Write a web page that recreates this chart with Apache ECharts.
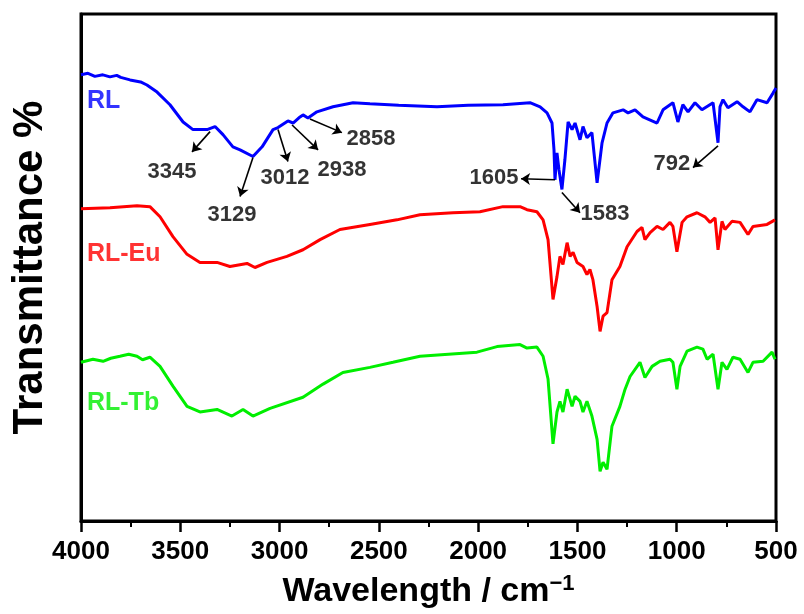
<!DOCTYPE html>
<html>
<head>
<meta charset="utf-8">
<script src="https://cdn.jsdelivr.net/npm/echarts@6/dist/echarts.min.js"></script>
<style>html,body{margin:0;padding:0;background:#fff}#c{width:804px;height:614px}</style>
</head>
<body>
<div id="c"></div>
<script>
// wavenumber (cm-1) and transmittance (arbitrary, offset) for each spectrum
const rlWave = [4000,3965,3930,3890,3854,3820,3800,3753,3700,3668,3617,3552,3486,3436,3365,3325,3285,3235,3199,3134,3088,3033,3008,2958,2932,2897,2882,2857,2812,2731,2630,2545,2400,2207,2050,1875,1739,1688,1653,1628,1618,1613,1603,1593,1578,1563,1547,1527,1512,1487,1472,1452,1427,1401,1376,1351,1321,1270,1245,1210,1170,1099,1069,1019,994,969,943,908,873,817,792,782,767,742,696,666,631,596,545,515,500];
const rlT    = [88.0,88.3,87.7,88.0,87.6,87.9,87.5,87.0,86.6,86.0,84.6,82.1,78.7,77.2,77.2,77.8,76.2,73.8,73.2,71.9,73.8,77.2,77.6,78.9,78.5,79.7,80.1,79.5,80.7,81.7,82.5,82.3,82.0,81.7,82.0,82.1,82.5,81.7,80.5,78.5,73.2,67.3,72.6,69.3,65.4,71.3,78.7,77.2,78.5,75.2,77.8,75.6,76.6,66.7,74.6,78.5,80.5,81.1,80.5,81.1,79.7,78.5,81.1,82.5,78.7,82.1,80.7,82.5,81.1,82.5,74.6,81.7,83.1,81.5,82.7,81.7,80.7,83.1,82.5,84.4,85.4];

const euWave = [4000,3854,3718,3653,3602,3537,3466,3401,3315,3250,3164,3124,3063,2963,2882,2796,2696,2545,2409,2293,2127,1991,1875,1789,1754,1704,1673,1648,1623,1603,1588,1573,1552,1537,1522,1502,1472,1452,1437,1422,1401,1386,1371,1351,1326,1286,1250,1200,1175,1160,1134,1099,1069,1034,1019,999,973,948,898,858,832,807,792,772,757,722,681,641,616,545,505];
const euT    = [61.6,61.8,62.2,62.0,60.0,56.1,52.6,51.0,51.0,50.2,50.8,50.0,51.0,52.2,53.5,55.5,57.5,58.5,59.4,60.4,60.8,61.0,62.0,62.0,61.4,61.0,59.4,55.5,43.7,48.2,52.2,50.6,54.9,52.2,53.0,51.0,50.2,48.6,49.6,47.6,42.3,37.4,40.4,41.1,47.6,50.2,54.1,57.1,57.9,55.5,56.9,58.1,57.5,58.9,58.1,53.1,58.9,60.0,60.8,60.0,58.9,59.8,53.5,59.1,57.5,59.1,58.9,56.5,58.1,58.5,59.4];

const tbWave = [4000,3940,3889,3850,3804,3760,3718,3690,3653,3602,3537,3466,3401,3315,3240,3184,3134,3048,2882,2781,2681,2545,2429,2293,2006,1905,1789,1754,1704,1673,1648,1623,1603,1588,1573,1552,1527,1512,1487,1472,1452,1427,1401,1386,1371,1351,1326,1286,1260,1235,1185,1160,1124,1084,1034,1019,999,983,948,898,868,847,817,792,772,747,717,681,641,616,565,520,505];
const tbT    = [31.3,31.9,31.5,32.1,32.5,32.9,32.5,31.8,32.3,30.5,26.6,22.6,21.5,22.0,20.7,22.0,20.7,22.2,24.4,27.0,29.3,30.3,31.3,32.5,33.3,34.4,34.8,34.1,34.3,32.5,28.0,15.2,21.5,23.6,21.5,26.0,22.6,24.6,23.6,21.5,23.6,20.7,16.1,9.8,11.6,10.2,18.7,22.6,26.0,28.5,31.3,28.3,30.5,31.5,31.9,31.3,26.0,30.5,33.5,34.3,33.9,31.9,32.9,26.0,31.3,29.9,32.3,31.9,29.3,31.3,31.5,33.3,31.9];

const seriesNames = ['RL','RL-Eu','RL-Tb'];
const xTicks = ['4000','3500','3000','2500','2000','1500','1000','500'];

// peak annotations: label, arrow start (on curve), arrow end, label centre  [wavenumber, T]
const annoText = ['3345','3129','3012','2938','2858','1605','1583','792'];
const annoFrom = [[3350,76.8],[3134,71.7],[3008,77.2],[2937,78.1],[2847,79.3],[1613,67.3],[1578,64.8],[792,74.0]];
const annoTo   = [[3441,72.8],[3199,64.0],[2958,70.9],[2806,73.2],[2686,76.6],[1784,67.5],[1487,60.8],[918,69.7]];
const annoAt   = [[3542,68.9],[3240,60.4],[2973,67.7],[2686,69.3],[2540,75.4],[1920,67.7],[1361,60.6],[1024,70.5]];

// series name label anchors [wavenumber, T]
const nameAt = [[3970,82.9],[3970,52.6],[3970,23.2]];

const colors = ['#0000ff','#ff0000','#00ee00'];
const FONT = '"Liberation Sans", Arial, Helvetica, sans-serif';

const zip = (a,b)=>a.map((v,i)=>[v,b[i]]);
const curves = [zip(rlWave,rlT), zip(euWave,euT), zip(tbWave,tbT)];

const chart = echarts.init(document.getElementById('c'), null, {renderer:'canvas'});
const series = curves.map((d,i)=>({
  name: seriesNames[i], type:'line', data:d, showSymbol:false, smooth:false,
  lineStyle:{color:colors[i], width:3}, itemStyle:{color:colors[i]}, z:2
}));

series.push({
  type:'scatter', symbolSize:0, silent:true, z:5,
  data: nameAt.map((p,i)=>({value:p, name:seriesNames[i],
    label:{show:true, position:'inside', align:'left', verticalAlign:'middle',
      formatter:seriesNames[i], color:colors[i], fontSize:25, fontWeight:'bold', fontFamily:FONT}}))
});

series.push({
  type:'scatter', symbolSize:0, silent:true, z:6,
  data: annoAt.map((p,i)=>({value:p, name:annoText[i],
    label:{show:true, position:'inside', align:'center', verticalAlign:'middle',
      formatter:annoText[i], color:'#000', fontSize:22, fontWeight:'bold', fontFamily:FONT}})),
  markLine:{
    silent:true, symbol:['none','arrow'], symbolSize:9, animation:false,
    label:{show:false},
    lineStyle:{color:'#000', width:1.6, type:'solid'},
    data: annoFrom.map((f,i)=>[{coord:f},{coord:annoTo[i]}])
  }
});

chart.setOption({
  animation:false,
  backgroundColor:'#fff',
  grid:{left:81, right:28, top:14, bottom:92, show:true, borderColor:'#000', borderWidth:3, backgroundColor:'transparent'},
  xAxis:{
    type:'value', min:500, max:4000, interval:500, inverse:true,
    name:'{a|Wavelength / cm}{s|−1}', nameLocation:'middle', nameGap:52,
    nameTextStyle:{rich:{
      a:{fontSize:34, fontWeight:'bold', fontFamily:FONT, color:'#000'},
      s:{fontSize:22, fontWeight:'bold', fontFamily:FONT, color:'#000', verticalAlign:'top', padding:[0,0,16,0]}
    }},
    axisLine:{show:true, lineStyle:{color:'#000', width:3}},
    axisTick:{show:true, inside:false, length:11, lineStyle:{color:'#000', width:2.5}},
    minorTick:{show:true, splitNumber:2, length:6, lineStyle:{color:'#000', width:2}},
    axisLabel:{show:true, margin:18, color:'#000', fontSize:26, fontWeight:'bold', fontFamily:FONT,
      formatter:(v)=>{const s=String(v); return xTicks.indexOf(s)>=0? s : '';}},
    splitLine:{show:false}
  },
  yAxis:{
    type:'value', min:0, max:100,
    name:'Transmittance %', nameLocation:'middle', nameGap:30, nameRotate:90,
    nameTextStyle:{fontSize:42, fontWeight:'bold', fontFamily:FONT, color:'#000'},
    axisLine:{show:true, lineStyle:{color:'#000', width:3}},
    axisTick:{show:false}, axisLabel:{show:false}, splitLine:{show:false}
  },
  series
});
</script>
</body>
</html>
